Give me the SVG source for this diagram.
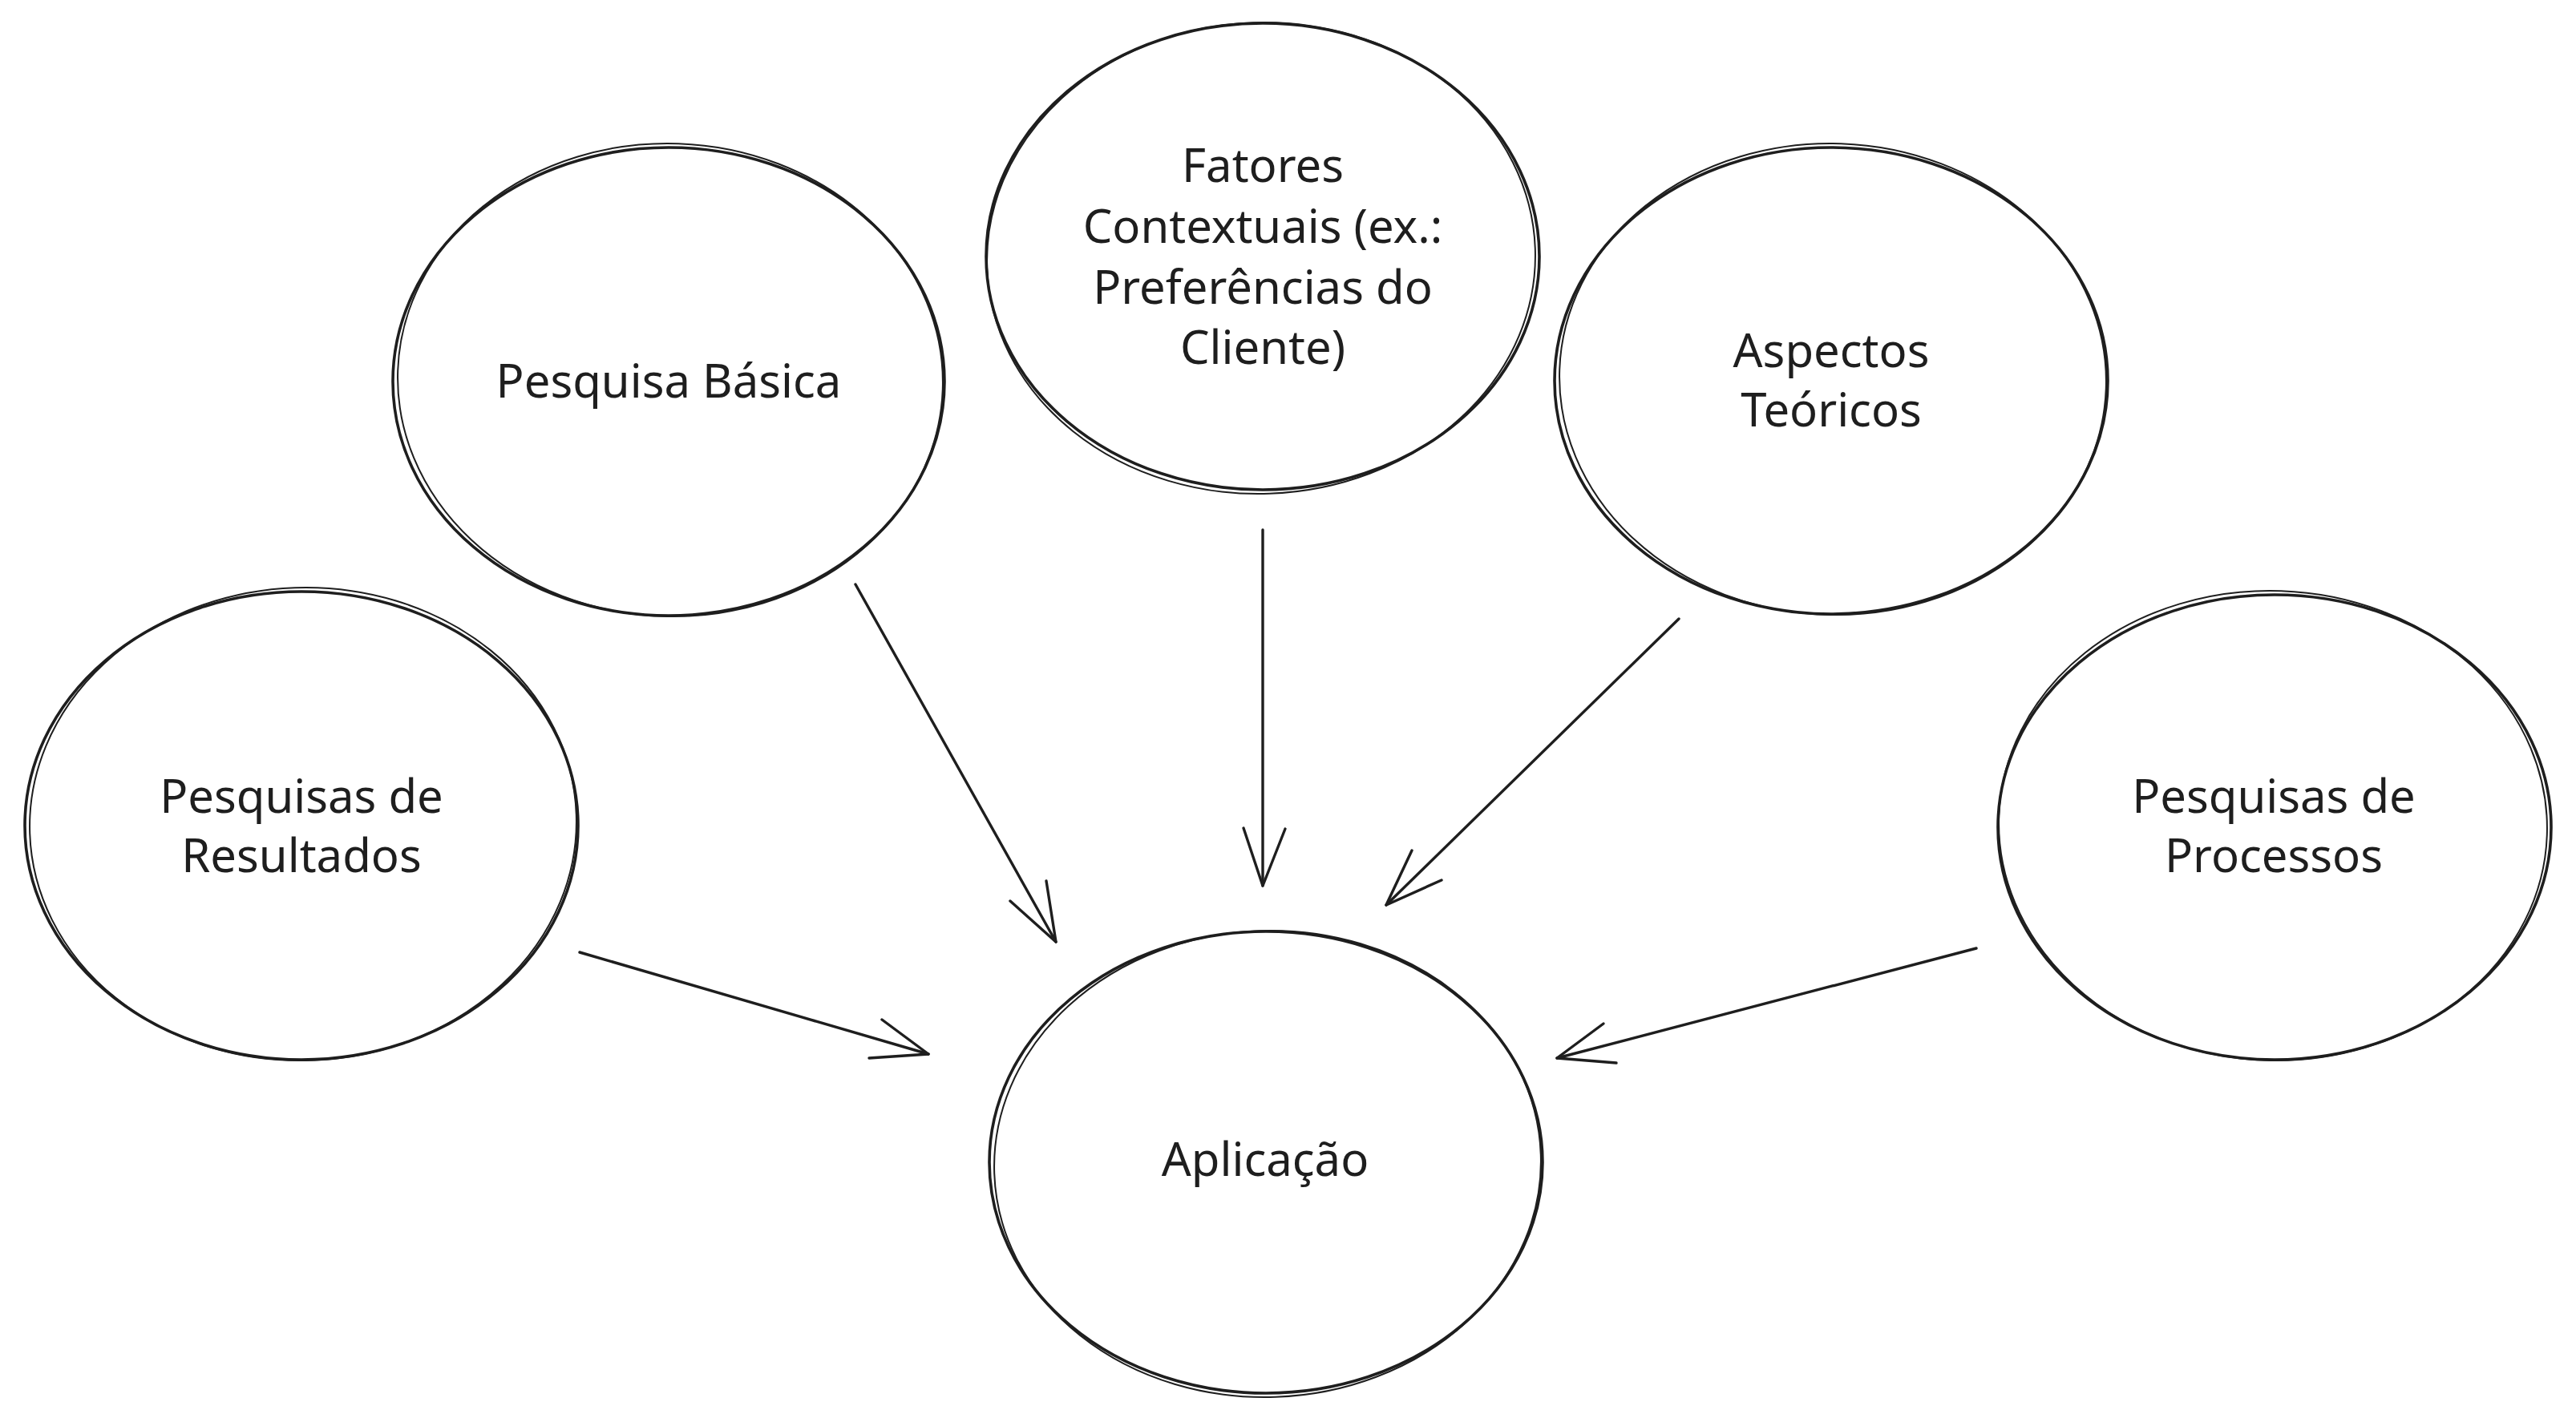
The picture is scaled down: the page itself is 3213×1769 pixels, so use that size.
<svg xmlns="http://www.w3.org/2000/svg" width="3213" height="1769" viewBox="0 0 3213 1769">
<style>
.n{fill:none;stroke:#1e1e1e;stroke-width:3.6;stroke-linecap:round}
.n2{fill:none;stroke:#1e1e1e;stroke-width:2;stroke-linecap:round}
.c{fill:none;stroke:#1e1e1e;stroke-width:3.4;stroke-linecap:round;stroke-linejoin:round}
.t{font-family:"Noto Sans","Open Sans",sans-serif;font-size:58px;fill:#1e1e1e;text-anchor:middle}
</style>
<rect width="3213" height="1769" fill="#ffffff"/>
<g id="node-pesquisa-basica">
<ellipse class="n" cx="834" cy="476" rx="344" ry="292"/>
<ellipse class="n2" cx="836" cy="474" rx="340" ry="295" transform="rotate(2 836 474)"/>
<text class="t" x="834" y="496">Pesquisa Básica</text>
</g>
<g id="node-fatores-contextuais">
<ellipse class="n" cx="1575" cy="320" rx="345" ry="291"/>
<ellipse class="n2" cx="1573" cy="322" rx="342" ry="294" transform="rotate(-2 1573 322)"/>
<text class="t" x="1575" y="227">Fatores</text>
<text class="t" x="1575" y="303">Contextuais (ex.:</text>
<text class="t" x="1575" y="379">Preferências do</text>
<text class="t" x="1575" y="454">Cliente)</text>
</g>
<g id="node-aspectos-teoricos">
<ellipse class="n" cx="2284" cy="475" rx="345" ry="291"/>
<ellipse class="n2" cx="2286" cy="473" rx="341" ry="294" transform="rotate(2 2286 473)"/>
<text class="t" x="2284" y="458">Aspectos</text>
<text class="t" x="2284" y="532">Teóricos</text>
</g>
<g id="node-pesquisas-resultados">
<ellipse class="n" cx="376" cy="1030" rx="345" ry="292"/>
<ellipse class="n2" cx="378" cy="1028" rx="341" ry="295" transform="rotate(-2 378 1028)"/>
<text class="t" x="376" y="1014">Pesquisas de</text>
<text class="t" x="376" y="1088">Resultados</text>
</g>
<g id="node-pesquisas-processos">
<ellipse class="n" cx="2837" cy="1032" rx="345" ry="290"/>
<ellipse class="n2" cx="2835" cy="1030" rx="342" ry="293" transform="rotate(2 2835 1030)"/>
<text class="t" x="2836" y="1014">Pesquisas de</text>
<text class="t" x="2836" y="1088">Processos</text>
</g>
<g id="node-aplicacao">
<ellipse class="n" cx="1579" cy="1450" rx="345" ry="288"/>
<ellipse class="n2" cx="1581" cy="1452" rx="341" ry="291" transform="rotate(-2 1581 1452)"/>
<text class="t" x="1578" y="1467">Aplicação</text>
</g>
<g id="connectors">
<path class="c" d="M1067 729 L1317 1175"/>
<path class="c" d="M1260 1124 L1317 1175 L1305 1099"/>
<path class="c" d="M1575 661 L1575 1105"/>
<path class="c" d="M1551 1033 L1575 1105 L1603 1034"/>
<path class="c" d="M2094 772 L1729 1129"/>
<path class="c" d="M1761 1061 L1729 1129 L1798 1098"/>
<path class="c" d="M723 1188 L1158 1315"/>
<path class="c" d="M1100 1272 L1158 1315 L1084 1320"/>
<path class="c" d="M2465 1183 L1942 1320"/>
<path class="c" d="M2000 1277 L1942 1320 L2016 1326"/>
</g>
</svg>
